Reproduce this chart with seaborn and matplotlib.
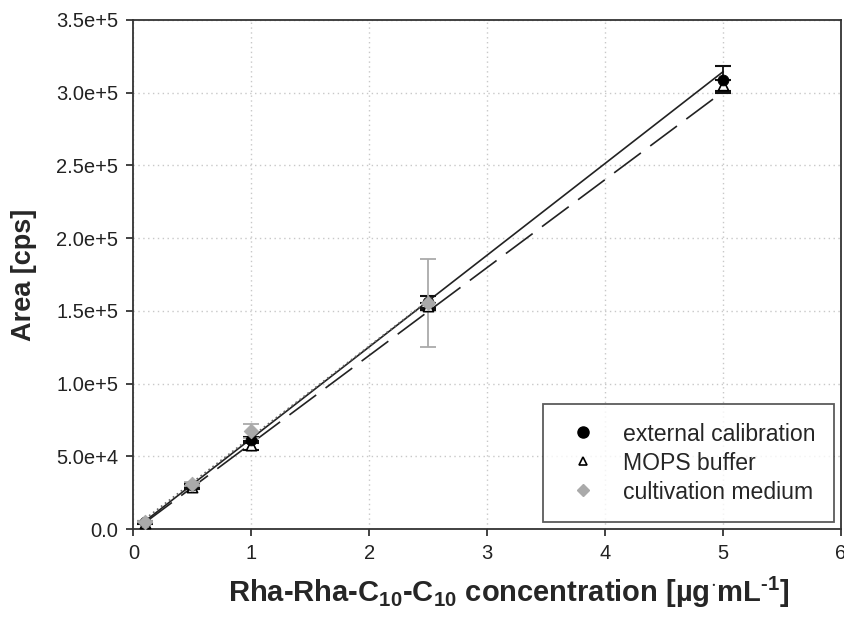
import numpy as np
import pandas as pd
import seaborn as sns
import matplotlib
matplotlib.use("Agg")
import matplotlib.pyplot as plt
from matplotlib.lines import Line2D
from matplotlib.ticker import FuncFormatter

# ---- data ----
conc = [0.1, 0.5, 1.0, 2.5, 5.0]
ext_area = [5000, 30500, 61000, 156000, 309000]
ext_err = [800, 1500, 2000, 4000, 9600]
mops_area = [4500, 29000, 57500, 153000, 305000]
mops_err = [700, 1200, 3000, 2500, 4000]
conc_med = [0.1, 0.5, 1.0, 2.5]
med_area = [5200, 31000, 67500, 155500]
med_err = [600, 1500, 5000, 30000]

series_names = ["external calibration", "MOPS buffer", "cultivation medium"]
fit_slope = [63000, 60400, 62500]
fit_intercept = [-800, -1500, 800]
fit_xmax = [5.0, 5.0, 2.5]

x_ticks = [0, 1, 2, 3, 4, 5, 6]
y_ticks = [0, 50000, 100000, 150000, 200000, 250000, 300000, 350000]

# ---- style ----
sns.set_theme(style="ticks")
plt.rcParams["font.family"] = ["Liberation Sans", "DejaVu Sans"]
plt.rcParams["mathtext.fontset"] = "custom"
plt.rcParams["mathtext.rm"] = "Liberation Sans:bold"
plt.rcParams["mathtext.bf"] = "Liberation Sans:bold"
plt.rcParams["mathtext.it"] = "Liberation Sans:bold"
plt.rcParams["mathtext.sf"] = "Liberation Sans:bold"

fig = plt.figure(figsize=(8.44, 6.21), dpi=100)
ax = fig.add_axes([0.158, 0.148, 0.838, 0.820])

# fit lines
styles = [dict(color="#222222", ls="-", lw=1.2),
          dict(color="#222222", ls=(0, (20, 7)), lw=1.2),
          dict(color="#666666", ls=(0, (1, 2)), lw=1.2)]
for name, m, b, xm, st in zip(series_names, fit_slope, fit_intercept, fit_xmax, styles):
    xs = np.array([conc[0], xm])
    df_fit = pd.DataFrame({"x": xs, "y": m * xs + b})
    sns.lineplot(data=df_fit, x="x", y="y", ax=ax, color=st["color"],
                 linestyle=st["ls"], linewidth=st["lw"], legend=False, zorder=2)

# error bars
ax.errorbar(conc, mops_area, yerr=mops_err, fmt="none", ecolor="#111111",
            elinewidth=1.3, capsize=6, capthick=1.5, zorder=3)
ax.errorbar(conc, ext_area, yerr=ext_err, fmt="none", ecolor="#111111",
            elinewidth=1.3, capsize=6, capthick=1.5, zorder=4)
ax.errorbar(conc_med, med_area, yerr=med_err, fmt="none", ecolor="#aaaaaa",
            elinewidth=1.3, capsize=6, capthick=1.3, zorder=5)

# markers
df_m = pd.DataFrame({"x": conc, "y": mops_area})
sns.scatterplot(data=df_m, x="x", y="y", ax=ax, marker="^", s=55,
                facecolor="white", edgecolor="black", linewidth=1.2, zorder=6)
df_e = pd.DataFrame({"x": conc, "y": ext_area})
sns.scatterplot(data=df_e, x="x", y="y", ax=ax, marker="o", s=60,
                color="black", edgecolor="black", zorder=7)
df_c = pd.DataFrame({"x": conc_med, "y": med_area})
sns.scatterplot(data=df_c, x="x", y="y", ax=ax, marker="D", s=55,
                color="#aaaaaa", edgecolor="#aaaaaa", zorder=8)

# axes
ax.set_xlim(0, 6)
ax.set_ylim(0, 350000)
ax.set_xticks(x_ticks)
ax.set_yticks(y_ticks)

def yfmt(v, pos):
    if v == 0:
        return "0.0"
    m, e = f"{v:.1e}".split("e")
    return f"{m}e{int(e):+d}"

ax.yaxis.set_major_formatter(FuncFormatter(yfmt))
ax.tick_params(axis="both", direction="out", length=5, width=1.2,
               labelsize=14.5, colors="#222222", pad=6)
ax.grid(True, color="#c8c8c8", linestyle=(0, (1, 2.5)), linewidth=1)
ax.set_axisbelow(True)
for sp in ax.spines.values():
    sp.set_visible(True)
    sp.set_color("#333333")
    sp.set_linewidth(1.3)

ax.set_ylabel("Area [cps]", fontsize=19.5, fontweight="bold", labelpad=14)
ax.set_xlabel(r"Rha-Rha-C$_{10}$-C$_{10}$ concentration [µg$^{\cdot}$mL$^{\text{-1}}$]",
              fontsize=21, fontweight="bold", labelpad=10)
ax.xaxis.set_label_coords(0.53, -0.09)

handles = [
    Line2D([], [], ls="none", marker="o", color="black", markersize=8),
    Line2D([], [], ls="none", marker="^", markerfacecolor="white",
           markeredgecolor="black", markersize=6, markeredgewidth=1.2),
    Line2D([], [], ls="none", marker="D", color="#aaaaaa", markersize=6),
]
leg = ax.legend(handles, series_names, loc="lower right",
                bbox_to_anchor=(0.99, 0.014), borderaxespad=0,
                fontsize=16.6, frameon=True, fancybox=False, edgecolor="#333333",
                handletextpad=0.75, borderpad=0.8, labelspacing=0.26,
                handlelength=1.9)
leg.get_frame().set_linewidth(1.3)

fig.savefig("out.png", dpi=100)
